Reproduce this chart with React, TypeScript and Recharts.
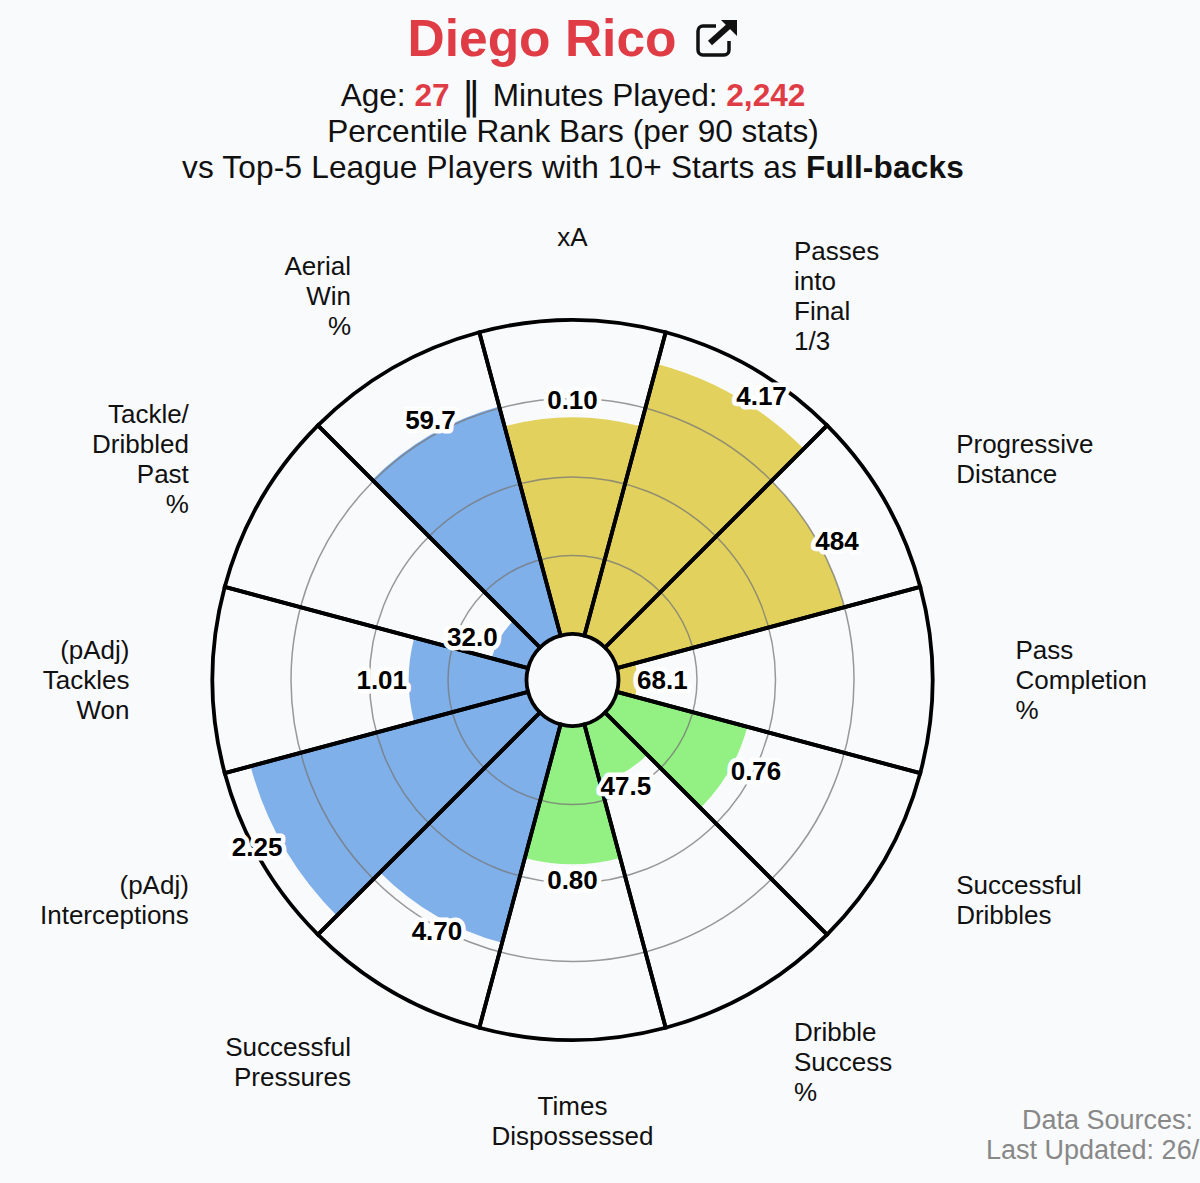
import { Cell, LabelList, PolarAngleAxis, PolarGrid, PolarRadiusAxis, RadialBar, RadialBarChart } from 'recharts';

const stats = [
  'xA',
  'Passes\ninto\nFinal\n1/3',
  'Progressive\nDistance',
  'Pass\nCompletion\n%',
  'Successful\nDribbles',
  'Dribble\nSuccess\n%',
  'Times\nDispossessed',
  'Successful\nPressures',
  '(pAdj)\nInterceptions',
  '(pAdj)\nTackles\nWon',
  'Tackle/\nDribbled\nPast\n%',
  'Aerial\nWin\n%',
];
const percentiles = [69, 89.5, 75, 6, 43, 19, 44, 72, 91.5, 37.5, 12, 75.5];
const rawValues = ['0.10', '4.17', '484', '68.1', '0.76', '47.5', '0.80', '4.70', '2.25', '1.01', '32.0', '59.7'];
const groups = ['pass', 'pass', 'pass', 'pass', 'drib', 'drib', 'drib', 'def', 'def', 'def', 'def', 'def'];
const ringTicks = [25, 50, 75, 100];

const groupColors: Record<string, string> = { pass: '#e2d25d', drib: '#93f082', def: '#7fb0ea' };
// hand placement of the value labels, the original pushes them around to avoid overlaps
const labelNudge = [
  [0, 0],
  [17, 14],
  [6, 10],
  [8, 0],
  [12, -8],
  [-8, 0],
  [0, -1],
  [9, 1],
  [-12, -8],
  [-10, 0],
  [-13, 7],
  [8, 0],
];

const chartData = stats.map((stat, i) => ({
  stat,
  percentile: percentiles[i],
  raw: rawValues[i],
  group: groups[i],
  full: 100,
}));

const RED = '#e03c46';
const FONT = '"Liberation Sans", Arial, sans-serif';
const CX = 572.5;
const CY = 680;
// axis ticks sit on the bar edge, the labels belong on the bar middle
const HALF_BAND = (15 * Math.PI) / 180;

// both chart layers have to share the same polar setup
const polarProps = {
  width: 1200,
  height: 1183,
  data: chartData,
  layout: 'centric' as const,
  cx: CX,
  cy: CY,
  innerRadius: 46,
  outerRadius: 360,
  startAngle: 75,
  endAngle: -285,
  barCategoryGap: 0,
  barGap: '-100%',
  margin: { top: 0, right: 0, bottom: 0, left: 0 },
};

function StatTick({ x, y, payload }: any) {
  const dx = x - CX;
  const dy = y - CY;
  const px = CX + dx * Math.cos(HALF_BAND) + dy * Math.sin(HALF_BAND);
  const py = CY - dx * Math.sin(HALF_BAND) + dy * Math.cos(HALF_BAND);
  const side = px - CX;
  const anchor = Math.abs(side) < 1 ? 'middle' : side > 0 ? 'start' : 'end';
  const lines = String(payload.value).split('\n');
  const lineH = 30;
  const top = py - ((lines.length - 1) * lineH) / 2 - (py > CY + 50 ? 2 : 0);
  return (
    <text x={px} y={top} textAnchor={anchor} fontSize={26} fill="#111" fontFamily={FONT} dominantBaseline="central">
      {lines.map((l: string, i: number) => (
        <tspan key={i} x={px} y={top + i * lineH}>
          {l}
        </tspan>
      ))}
    </text>
  );
}

function ValueLabel({ viewBox, value, index }: any) {
  const { cx, cy, outerRadius, startAngle, endAngle } = viewBox;
  const mid = (((startAngle + endAngle) / 2) * Math.PI) / 180;
  const r = outerRadius + 17;
  const nudge = labelNudge[index] ?? [0, 0];
  return (
    <text
      x={cx + r * Math.cos(mid) + nudge[0]}
      y={cy - r * Math.sin(mid) + nudge[1]}
      textAnchor="middle"
      dominantBaseline="central"
      fontSize={26}
      fontWeight="bold"
      fontFamily={FONT}
      fill="#000"
      stroke="#fff"
      strokeWidth={9}
      strokeLinejoin="round"
      style={{ paintOrder: 'stroke' }}
    >
      {value}
    </text>
  );
}

export default function App() {
  return (
    <div
      style={{
        position: 'absolute',
        left: 0,
        top: 0,
        width: 1200,
        height: 1183,
        overflow: 'hidden',
        background: '#f9fafc',
        fontFamily: FONT,
        color: '#111',
      }}
    >
      <div style={{ position: 'absolute', top: 8, left: 0, width: 1146, textAlign: 'center', fontSize: 51.5, fontWeight: 'bold', color: RED, lineHeight: '60px' }}>
        Diego Rico
        <svg width={42} height={38} viewBox="0 0 42 38" style={{ marginLeft: 20, verticalAlign: -1 }}>
          <path d="M20 7H7a5 5 0 0 0-5 5v19a5 5 0 0 0 5 5h21a5 5 0 0 0 5-5v-9" fill="none" stroke="#111" strokeWidth={3.5} />
          <path d="M14 24L33 7" fill="none" stroke="#111" strokeWidth={6} />
          <path d="M25 1H41V17Z" fill="#111" />
        </svg>
      </div>
      <div style={{ position: 'absolute', top: 77, left: 0, width: 1146, textAlign: 'center', fontSize: 31.6, lineHeight: '36px' }}>
        <div>
          Age: <b style={{ color: RED }}>27</b>
          <span style={{ fontFamily: '"DejaVu Sans"', fontSize: 38, lineHeight: '30px', verticalAlign: -2 }}> ‖ </span>
          Minutes Played: <b style={{ color: RED }}>2,242</b>
        </div>
        <div>Percentile Rank Bars (per 90 stats)</div>
        <div style={{ letterSpacing: 0.17 }}>
          vs Top-5 League Players with 10+ Starts as <b>Full-backs</b>
        </div>
      </div>

      {/* bars go in their own layer, otherwise the grid ends up under them */}
      <div style={{ position: 'absolute', left: 0, top: 0 }}>
        <RadialBarChart {...polarProps}>
          <PolarAngleAxis type="category" dataKey="stat" tick={StatTick} tickLine={false} axisLine={false} tickSize={83} />
          <PolarRadiusAxis type="number" domain={[0, 100]} ticks={ringTicks} tick={false} axisLine={false} />
          <RadialBar dataKey="percentile" isAnimationActive={false}>
            {chartData.map((d) => (
              <Cell key={d.stat} fill={groupColors[d.group]} />
            ))}
          </RadialBar>
        </RadialBarChart>
      </div>
      <div style={{ position: 'absolute', left: 0, top: 0 }}>
        <RadialBarChart {...polarProps}>
          <PolarAngleAxis type="category" dataKey="stat" tick={false} tickLine={false} axisLine={false} />
          <PolarRadiusAxis type="number" domain={[0, 100]} ticks={ringTicks} tick={false} axisLine={false} />
          <PolarGrid gridType="circle" radialLines={false} stroke="#777" strokeOpacity={0.75} strokeWidth={1.5} />
          <RadialBar dataKey="full" fill="none" stroke="#000" strokeWidth={3.8} isAnimationActive={false} />
          <RadialBar dataKey="percentile" fill="none" isAnimationActive={false}>
            <LabelList dataKey="raw" content={ValueLabel} />
          </RadialBar>
        </RadialBarChart>
      </div>

      <div style={{ position: 'absolute', left: 1022, top: 1105, fontSize: 27, lineHeight: '30px', color: '#888', whiteSpace: 'nowrap' }}>Data Sources:</div>
      <div style={{ position: 'absolute', left: 986, top: 1135, fontSize: 27, lineHeight: '30px', color: '#888', whiteSpace: 'nowrap' }}>Last Updated: 26/</div>
    </div>
  );
}
